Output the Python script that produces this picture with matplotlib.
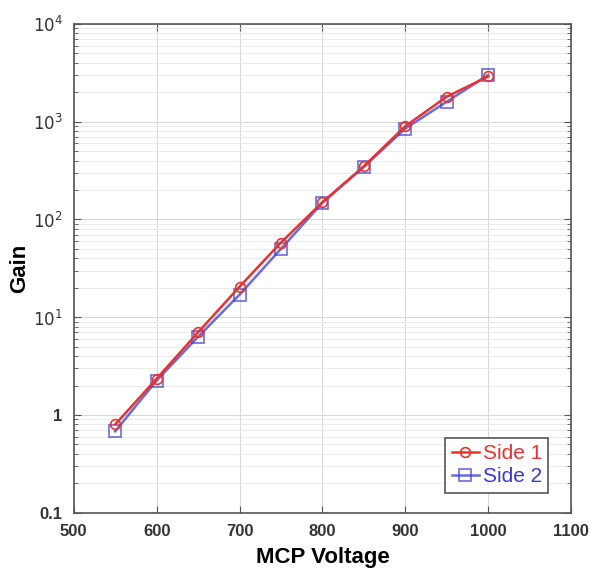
import matplotlib
matplotlib.use("Agg")
import matplotlib.pyplot as plt
from matplotlib.ticker import FixedLocator, FixedFormatter, LogLocator, NullFormatter

voltage = [550, 600, 650, 700, 750, 800, 850, 900, 950, 1000]
gain_side1 = [0.80, 2.35, 7.0, 20.5, 58, 150, 350, 900, 1800, 2900]
gain_side2 = [0.68, 2.25, 6.3, 17.0, 50, 148, 345, 850, 1600, 3000]

ytick_vals = [0.1, 1, 10, 100, 1000, 10000]
ytick_labels = ["0.1", "1", r"$10^1$", r"$10^2$", r"$10^3$", r"$10^4$"]
xtick_vals = [500, 600, 700, 800, 900, 1000, 1100]

plt.rcParams["font.family"] = ["Liberation Sans", "DejaVu Sans"]

fig = plt.figure(figsize=(5.9, 5.82), dpi=100)
ax = fig.add_axes([0.125, 0.119, 0.843, 0.840])

red = "#e8322f"
blue = "#3a3ad0"

ax.plot(voltage, gain_side1, "-o", color=red, lw=1.8, ms=7, mfc="none",
        mew=1.2, label="Side 1", zorder=3)
ax.plot(voltage, gain_side2, "-s", color=blue, lw=1.8, ms=8, mfc="none",
        mew=1.2, label="Side 2", zorder=2, alpha=0.75)

ax.set_yscale("log")
ax.set_xlim(500, 1100)
ax.set_ylim(0.1, 10000)

ax.yaxis.set_major_locator(FixedLocator(ytick_vals))
ax.yaxis.set_major_formatter(FixedFormatter(ytick_labels))
ax.yaxis.set_minor_locator(LogLocator(base=10, subs=range(2, 10)))
ax.yaxis.set_minor_formatter(NullFormatter())
ax.xaxis.set_major_locator(FixedLocator(xtick_vals))

ax.grid(True, which="major", color="#d8d8d8", lw=0.8)
ax.grid(True, which="minor", axis="y", color="#e8e8e8", lw=0.6)
ax.set_axisbelow(True)

for s in ax.spines.values():
    s.set_color("#555555")
    s.set_linewidth(1.2)
ax.tick_params(which="both", direction="in", top=True, right=True,
               colors="#555555", labelcolor="#333333")
ax.tick_params(which="major", length=5, labelsize=12)
ax.tick_params(which="minor", length=3)
ax.tick_params(axis="x", pad=8)
ax.tick_params(axis="y", pad=8)
for lab in ax.get_xticklabels() + ax.get_yticklabels():
    lab.set_fontweight("bold")

ax.set_xlabel("MCP Voltage", fontsize=16, fontweight="bold", labelpad=6)
ax.set_ylabel("Gain", fontsize=16, fontweight="bold", labelpad=2)

leg = ax.legend(loc="lower right", fontsize=15, handlelength=1.3,
                handletextpad=0.2, borderpad=0.3, labelspacing=0.2,
                fancybox=False, framealpha=1, edgecolor="#555555",
                bbox_to_anchor=(0.975, 0.02))
leg.get_frame().set_linewidth(1.2)
for txt, c in zip(leg.get_texts(), [red, blue]):
    txt.set_color(c)

fig.savefig("out.png", dpi=100)
